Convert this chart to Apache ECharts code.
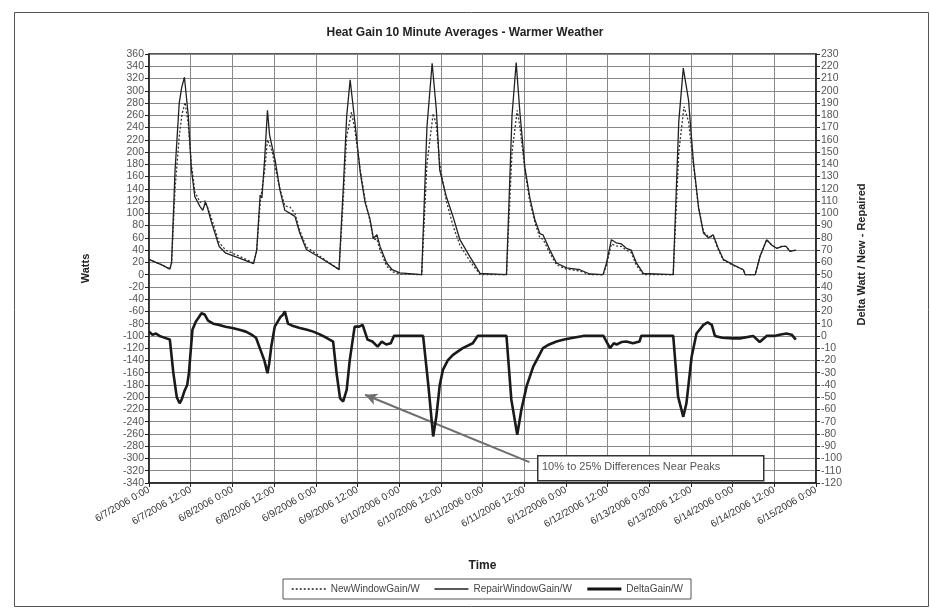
<!DOCTYPE html>
<html><head><meta charset="utf-8">
<script src="https://cdn.jsdelivr.net/npm/echarts@6/dist/echarts.min.js"></script>
<style>html,body{margin:0;padding:0;background:#fff}#c{width:930px;height:609px}</style>
</head><body><div id="c"></div>
<script>
// hours since 6/7/2006 0:00
var xTickLabels = ['6/7/2006 0:00','6/7/2006 12:00','6/8/2006 0:00','6/8/2006 12:00','6/9/2006 0:00','6/9/2006 12:00','6/10/2006 0:00','6/10/2006 12:00','6/11/2006 0:00','6/11/2006 12:00','6/12/2006 0:00','6/12/2006 12:00','6/13/2006 0:00','6/13/2006 12:00','6/14/2006 0:00','6/14/2006 12:00','6/15/2006 0:00'];

var repairHours = [0,2,4,6,6.5,7.5,8.7,9.4,10.2,11.3,12.2,13.2,14.7,15.5,16.2,16.8,17.8,20.2,22.1,26,30.1,
 31,32,32.5,33.3,34.1,34.7,35.2,36.3,37.7,39.1,40.6,42,43.4,45.3,49.2,54,54.7,
 56,56.9,57.9,59.3,60.8,62.2,63.6,64.6,65.6,66.5,68.4,70,72.2,78.5,
 80,81.5,82.7,83.7,85.6,87.5,89.5,92.4,95.3,102.9,
 104.5,105.7,106.8,108.2,109.6,111.1,112.5,113.4,115.4,117.3,120.2,124,126.9,130.7,
 131.7,133.1,134.5,136,137.4,138.8,140.3,142.3,150.9,
 152.5,153.8,155.3,156.7,158.2,159.6,161,162.4,163.8,165.3,168.2,171.1,171.6,174.5,175.9,177.8,179.3,180.7,182.2,183.4,184.5,186.2];
var repairGain = [25,20,15,9,20,170,280,305,322,260,172,127,111,105,118,110,89,46,35,27,18,
 40,130,125,190,268,228,225,187,138,105,100,95,68,41,28,11,8,
 150,258,318,247,167,118,91,59,65,46,19,8,3,0,
 240,345,270,170,127,95,57,29,2,0,
 260,346,262,175,126,89,67,65,40,19,11,8,1,0,
 19,57,52,50,43,40,19,2,0,
 250,337,285,185,109,68,60,65,44,25,16,8,0,0,30,57,48,43,46,46,38,40];

var newHours = [0,2,4,6,6.5,7.5,8.7,9.5,10.4,11.3,12.2,13.2,14.7,16.2,17.8,20.2,22.1,26,30.1,
 31,32,33.3,34.1,34.7,35.5,36.3,37.7,39.1,40.6,42,43.4,45.3,49.2,54,54.7,
 56,56.9,58.3,59.3,60.8,62.2,63.6,64.6,65.6,66.5,68.4,70,72.2,78.5,
 80,81.8,82.7,83.7,85.6,87.5,89.5,92.4,95.3,102.9,
 104.5,106,106.8,108.2,109.6,111.1,112.5,113.4,115.4,117.3,120.2,124,126.9,130.7,
 131.7,133.1,134.5,136,137.4,138.8,140.3,142.3,150.9,
 152.5,154,155.3,156.7,158.2,159.6,161,162.4,163.8,165.3,168.2,171.1,171.6,174.5,175.9,177.8,179.3,180.7,182.2,183.4,184.5,186.2];
var newGain = [25,20,15,9,18,140,225,262,281,245,180,135,118,120,95,52,40,30,19,
 38,118,170,220,212,200,175,140,112,110,100,72,45,30,11,8,
 130,225,265,235,172,122,88,57,58,40,14,5,1,0,
 180,263,245,180,120,80,48,22,0,0,
 200,268,240,170,120,85,60,58,35,16,9,6,0,0,
 15,50,47,46,40,36,15,0,0,
 200,274,250,180,110,70,62,62,42,24,15,8,0,0,30,57,48,43,46,46,38,40];

var deltaHours = [0,1,2,3,4,5,6,7,8,8.8,9.4,10.2,11,11.5,12.5,13.5,14.3,15.1,16,17,18.5,20.2,22,24,26,27.9,29.5,30.8,
 32.3,33.2,34.1,34.6,35.2,36.2,37.9,38.5,39.1,40,41.5,43.4,45.5,47.3,49,51.1,53,
 54,55,55.9,56.9,57.8,59.2,60.5,61.5,62.9,64.3,65.8,67,68.3,69.6,70.5,78.9,
 80.4,81.8,82.7,83.7,84.6,86,87.5,90.3,93.2,94.6,102.9,
 104.3,106,107.2,108.7,110.6,113.4,115.2,117.3,119.5,122.1,125,130.8,
 132.7,133.8,134.6,136,137.4,139.3,141.2,141.7,150.9,
 152.3,153.8,154.7,156.2,157.6,159.6,160.8,162,162.9,165,168,170.1,173.9,175.8,177.8,180,181.5,183.5,185,186.2];
var deltaGain = [3.5,1,2,0,-1,-2,-3,-30,-50,-55,-52,-45,-40,-30,5,11.7,15,18.5,17.5,12.5,10,9,7.5,6.5,5,3.5,1,-1.5,
 -13,-20,-30.5,-22.5,-8.7,7.6,15.7,17,20,10,8,6.5,5,3.5,1.5,-1.5,-4.6,
 -30.5,-51,-53.5,-44,-19.5,7.6,7.6,9,-3,-4.6,-8.7,-4.6,-7,-6,0,0,
 -40,-82,-66,-40,-27.7,-20,-15.5,-10,-6,0,0,
 -52,-80.7,-60,-41,-25,-10,-7,-4.6,-3,-1.5,0,0,
 -10,-6,-7,-5,-4.6,-6,-4.6,0,0,
 -49.5,-66,-55,-17,2,9,11,9,0,-1.5,-2,-2,0,-5,0,0,1,2,1,-3];

function pairs(xs, ys){ var o=[]; for (var i=0;i<xs.length;i++) o.push([xs[i], ys[i]]); return o; }

var FONT = '"Liberation Sans", Arial, sans-serif';
var chart = echarts.init(document.getElementById('c'), null, {renderer:'canvas'});
chart.setOption({
  backgroundColor:'#fff',
  animation:false,
  textStyle:{fontFamily:FONT},
  title:{text:'Heat Gain 10 Minute Averages - Warmer Weather', left:'center', top:22,
    textStyle:{fontSize:12, fontWeight:'bold', color:'#222', fontFamily:FONT}},
  grid:{left:149, right:114, top:54, bottom:126, show:true, borderColor:'#222', borderWidth:1.5, backgroundColor:'#fff'},
  legend:{left:283, top:579, itemWidth:34, itemHeight:10, itemGap:14, padding:[5,8],
    borderColor:'#555', borderWidth:1, borderRadius:0,
    itemStyle:{color:'transparent', borderWidth:0, opacity:0},
    textStyle:{fontSize:10, color:'#444', fontFamily:FONT},
    data:[
      {name:'NewWindowGain/W', lineStyle:{width:1.5, color:'#222', type:[2,2]}},
      {name:'RepairWindowGain/W', lineStyle:{width:1.6, color:'#222'}},
      {name:'DeltaGain/W', lineStyle:{width:3, color:'#111'}}
    ]},
  xAxis:{type:'value', min:0, max:192, interval:12,
    name:'Time', nameLocation:'middle', nameGap:77,
    nameTextStyle:{fontSize:12, fontWeight:'bold', color:'#222'},
    axisLine:{show:true, onZero:false, lineStyle:{color:'#222', width:1.5}},
    axisTick:{show:true, length:4, lineStyle:{color:'#222'}},
    splitLine:{show:true, lineStyle:{color:'#888', width:1}},
    axisLabel:{rotate:30, fontSize:10, color:'#333', margin:6,
      formatter:function(v){ return xTickLabels[Math.round(v/12)] || ''; }}},
  yAxis:[
    {type:'value', min:-340, max:360, interval:20, position:'left',
      name:'Watts', nameLocation:'middle', nameGap:58, nameRotate:90,
      nameTextStyle:{fontSize:11, fontWeight:'bold', color:'#222'},
      axisLine:{show:true, lineStyle:{color:'#222', width:1.5}},
      axisTick:{show:true, length:4, lineStyle:{color:'#222'}},
      splitLine:{show:true, lineStyle:{color:'#888', width:1}},
      axisLabel:{fontSize:10.5, color:'#555', margin:5}},
    {type:'value', min:-120, max:230, interval:10, position:'right',
      name:'Delta Watt / New - Repaired', nameLocation:'middle', nameGap:40, nameRotate:90,
      nameTextStyle:{fontSize:11, fontWeight:'bold', color:'#222', padding:[0,0,0,28]},
      axisLine:{show:true, lineStyle:{color:'#222', width:1.5}},
      axisTick:{show:true, length:4, lineStyle:{color:'#222'}},
      splitLine:{show:false},
      axisLabel:{fontSize:10.5, color:'#555', margin:5}}
  ],
  series:[
    {name:'NewWindowGain/W', type:'line', yAxisIndex:0, symbol:'none', smooth:false,
      data:pairs(newHours, newGain),
      lineStyle:{color:'#333', width:1.3, type:[2,2]}, itemStyle:{color:'#333'}, z:3},
    {name:'RepairWindowGain/W', type:'line', yAxisIndex:0, symbol:'none',
      data:pairs(repairHours, repairGain),
      lineStyle:{color:'#222', width:1.3}, itemStyle:{color:'#222'}, z:4},
    {name:'DeltaGain/W', type:'line', yAxisIndex:1, symbol:'none',
      data:pairs(deltaHours, deltaGain),
      lineStyle:{color:'#1a1a1a', width:2.6}, itemStyle:{color:'#1a1a1a'}, z:5,
      markLine:{silent:true, symbol:['none','arrow'], symbolSize:[9,12],
        lineStyle:{color:'#6e6e6e', width:2, type:'solid'}, label:{show:false},
        data:[[{coord:[109.5,-103]},{coord:[62.2,-48]}]]}}
  ],
  graphic:[
    {type:'rect', left:12, top:10, shape:{width:914, height:594}, silent:true,
      style:{fill:'none', stroke:'#555', lineWidth:1}},
    {type:'rect', left:537, top:455, shape:{width:226, height:25}, z:10,
      style:{fill:'#fff', stroke:'#333', lineWidth:1.5}},
    {type:'text', left:542, top:461, z:11,
      style:{text:'10% to 25% Differences Near Peaks', fontSize:11, fill:'#555', fontFamily:FONT}}
  ]
});
</script></body></html>
